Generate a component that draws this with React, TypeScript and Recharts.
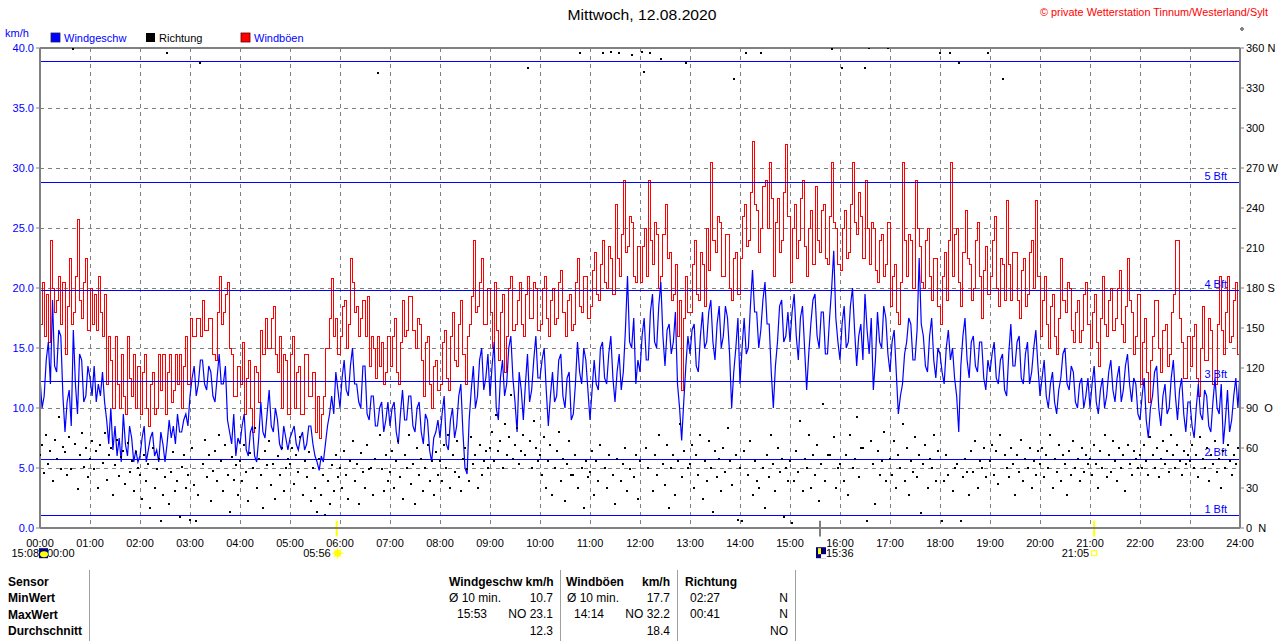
import React from 'react';
import {
  ComposedChart,
  Line,
  Scatter,
  XAxis,
  YAxis,
  CartesianGrid,
  ReferenceLine,
  ReferenceDot,
} from 'recharts';

const FONT = '"Liberation Sans", Arial, Helvetica, sans-serif';

// Windgeschwindigkeit km/h, alle 2,5 Minuten 00:00 .. 24:00 (eine Zeile je Stunde)
const windSpeed = [
  12.5, 10.0, 11.0, 14.0, 15.5, 12.0, 19.0, 13.5, 13.0, 16.5, 16.0, 11.0, 8.0, 10.5, 11.5, 8.5, 16.5, 12.0, 9.5, 14.5, 14.0, 10.5, 11.0, 13.5,
  12.5, 11.0, 13.5, 10.5, 12.0, 11.0, 13.0, 10.5, 9.0, 7.0, 10.0, 6.5, 8.5, 6.0, 7.5, 5.5, 9.5, 7.0, 6.0, 8.5, 7.5, 5.5, 6.5, 5.5,
  6.0, 7.5, 8.5, 5.5, 6.5, 7.5, 8.0, 6.0, 6.5, 5.5, 8.0, 7.0, 5.5, 7.0, 9.0, 7.5, 8.5, 7.0, 9.5, 8.0, 8.0, 9.0, 9.5, 8.5,
  11.0, 12.5, 13.5, 11.0, 12.0, 14.0, 14.0, 12.0, 11.5, 13.5, 13.0, 11.0, 10.5, 12.5, 14.5, 12.0, 12.0, 13.5, 9.0, 8.0, 7.0, 9.5, 6.0, 7.5,
  7.0, 8.5, 9.5, 6.5, 6.0, 8.0, 8.5, 6.0, 5.5, 7.5, 10.5, 8.0, 7.5, 9.5, 11.5, 8.5, 8.0, 10.0, 9.0, 7.0, 6.5, 8.5, 7.5, 6.5,
  7.5, 8.0, 8.5, 7.0, 6.5, 7.5, 8.0, 6.5, 7.0, 8.5, 8.5, 7.0, 6.0, 5.5, 4.8, 6.0, 5.5, 7.0, 8.5, 9.5, 11.0, 9.5, 13.0, 11.5,
  10.0, 12.5, 14.0, 11.5, 11.0, 13.5, 15.0, 12.0, 12.0, 10.5, 10.0, 13.5, 13.5, 9.5, 9.0, 11.0, 11.0, 8.5, 8.5, 10.0, 10.5, 8.0, 9.0, 10.5,
  8.5, 10.0, 10.5, 8.0, 7.0, 9.5, 11.5, 9.0, 9.0, 11.0, 11.0, 8.5, 8.0, 10.0, 10.5, 8.0, 7.0, 9.5, 9.0, 6.5, 5.5, 7.5, 8.0, 9.0,
  7.5, 9.5, 11.0, 7.0, 6.5, 9.0, 10.0, 7.5, 8.5, 11.0, 12.0, 8.0, 5.0, 4.5, 9.0, 11.5, 13.5, 10.0, 11.0, 14.0, 15.0, 11.5, 12.5, 14.5,
  11.0, 13.5, 15.5, 10.0, 9.0, 12.5, 14.0, 11.0, 12.0, 15.0, 16.0, 12.5, 10.5, 8.0, 13.0, 11.5, 9.0, 12.0, 14.5, 10.5, 11.5, 14.0, 16.0, 12.5,
  12.5, 14.0, 15.0, 11.5, 8.5, 11.0, 13.0, 10.5, 11.0, 14.0, 14.5, 11.0, 10.0, 12.5, 13.0, 9.0, 9.5, 12.0, 15.5, 13.0, 12.0, 15.0, 14.0, 11.5,
  9.0, 11.5, 14.0, 12.0, 11.5, 15.0, 15.5, 12.5, 12.0, 14.5, 16.0, 12.5, 10.5, 13.0, 14.5, 11.5, 13.0, 16.5, 21.0, 15.5, 15.0, 17.5, 12.0, 14.0,
  13.0, 16.0, 17.5, 14.0, 14.0, 18.0, 19.5, 15.5, 15.0, 18.5, 20.5, 16.0, 13.5, 16.5, 17.0, 14.5, 15.5, 18.0, 12.0, 10.0, 7.3, 10.5, 13.5, 16.0,
  14.5, 16.5, 17.0, 13.5, 13.0, 16.0, 18.0, 15.0, 15.5, 18.0, 19.0, 15.5, 14.0, 17.0, 18.5, 15.0, 16.0, 18.5, 17.5, 14.5, 10.0, 13.0, 15.0, 17.5,
  12.0, 15.0, 17.5, 14.5, 15.0, 18.5, 21.5, 18.0, 18.0, 15.0, 16.5, 19.0, 20.5, 17.0, 17.0, 13.0, 10.0, 13.5, 15.5, 18.5, 19.0, 15.5, 16.0, 18.0,
  15.5, 18.0, 19.5, 16.0, 14.0, 17.5, 18.5, 15.0, 11.5, 14.5, 17.0, 19.0, 19.5, 16.0, 15.0, 18.0, 18.0, 14.5, 14.5, 17.5, 20.0, 23.1, 17.5, 15.5,
  14.0, 17.0, 18.5, 15.0, 15.5, 18.5, 20.0, 16.5, 13.5, 16.0, 17.0, 14.0, 19.5, 16.5, 14.5, 17.5, 11.5, 14.0, 18.0, 15.5, 15.0, 18.5, 17.5, 14.5,
  13.0, 15.5, 16.5, 13.0, 9.5, 11.0, 12.0, 14.5, 15.5, 17.5, 17.0, 14.0, 14.0, 16.5, 22.5, 17.0, 16.0, 13.5, 13.0, 16.0, 17.5, 14.0, 12.5, 15.0,
  14.5, 13.0, 12.0, 15.0, 16.5, 14.0, 15.0, 12.5, 11.0, 8.0, 13.5, 16.0, 17.5, 14.0, 12.5, 15.5, 16.0, 13.5, 13.0, 15.5, 15.5, 12.5, 11.5, 14.0,
  13.0, 14.5, 15.5, 12.5, 12.0, 14.0, 14.5, 11.5, 11.0, 14.5, 17.0, 13.5, 13.5, 15.5, 16.0, 12.5, 12.0, 14.5, 15.5, 12.0, 13.0, 15.0, 16.5, 13.5,
  11.0, 12.5, 14.0, 11.0, 10.0, 12.0, 13.0, 10.5, 9.5, 11.5, 12.5, 14.5, 15.0, 12.0, 11.5, 13.5, 13.0, 10.5, 10.0, 12.0, 12.5, 10.0, 11.0, 12.5,
  10.0, 12.0, 13.5, 10.5, 9.5, 11.5, 12.5, 10.0, 11.0, 13.0, 14.0, 11.5, 10.5, 12.5, 13.5, 10.5, 11.5, 13.5, 14.5, 12.0, 10.5, 12.5, 12.0, 9.5,
  9.0, 11.0, 12.5, 9.0, 7.5, 10.0, 11.0, 13.0, 13.5, 10.0, 8.5, 11.0, 12.0, 9.5, 10.0, 12.5, 14.0, 11.0, 9.0, 11.5, 12.5, 9.5, 8.0, 10.5,
  10.5, 8.5, 7.5, 10.0, 12.0, 9.5, 9.0, 11.5, 11.0, 8.5, 8.0, 10.5, 12.5, 10.0, 9.5, 12.0, 7.0, 9.0, 11.5, 8.0, 9.0, 11.0, 12.5, 10.0,
  13.0,
];

// Windböen km/h, alle 2,5 Minuten 00:00 .. 24:00 (eine Zeile je Stunde)
const windGust = [
  17.0, 20.5, 16.0, 19.5, 15.5, 24.0, 20.0, 18.0, 19.0, 21.0, 17.0, 20.5, 14.5, 18.5, 22.5, 17.0, 18.0, 21.0, 25.7, 19.0, 17.5, 20.5, 22.5, 16.5,
  20.0, 17.0, 19.5, 16.5, 21.0, 18.0, 16.0, 19.5, 12.0, 16.0, 14.0, 10.0, 16.0, 12.0, 10.0, 14.5, 11.0, 9.5, 16.0, 12.5, 11.0, 14.5, 10.0, 13.5,
  9.5, 13.0, 14.5, 10.0, 8.5, 12.0, 13.0, 9.5, 10.0, 14.5, 11.5, 14.5, 9.5, 13.0, 14.5, 10.5, 11.5, 14.5, 12.0, 14.5, 10.0, 13.5, 16.0, 12.0,
  17.5, 16.0, 16.0, 17.5, 17.5, 16.0, 19.0, 16.5, 16.5, 17.5, 17.5, 14.5, 14.0, 18.0, 21.0, 17.0, 18.0, 19.5, 20.5, 15.0, 14.5, 11.0, 11.0, 13.5,
  12.0, 15.5, 9.5, 12.5, 14.0, 10.0, 8.0, 13.5, 13.0, 10.5, 16.5, 14.5, 17.5, 15.0, 15.0, 17.5, 18.5, 14.5, 13.0, 16.0, 10.0, 14.5, 14.0, 9.5,
  14.5, 16.0, 10.0, 13.0, 13.5, 9.5, 9.5, 14.5, 14.5, 11.0, 11.0, 13.0, 8.0, 11.0, 7.5, 9.5, 11.0, 15.0, 15.0, 17.5, 20.8, 16.0, 17.5, 14.5,
  16.0, 18.5, 19.0, 15.0, 17.0, 22.5, 20.5, 18.0, 18.5, 16.0, 17.5, 19.0, 16.0, 19.3, 13.5, 16.0, 15.0, 12.5, 16.0, 13.5, 15.5, 12.0, 13.0, 16.0,
  13.5, 16.0, 17.5, 13.0, 12.0, 15.5, 19.0, 16.0, 16.5, 19.3, 19.3, 16.5, 15.0, 17.5, 17.0, 14.0, 11.0, 15.5, 16.0, 12.0, 10.0, 13.5, 14.0, 11.5,
  12.0, 15.5, 16.5, 12.5, 11.5, 16.0, 18.0, 14.0, 13.5, 17.0, 19.0, 14.5, 12.0, 16.0, 17.0, 19.3, 24.0, 18.0, 18.5, 20.5, 22.5, 17.0, 17.0, 20.0,
  18.0, 15.0, 20.5, 16.5, 14.0, 18.0, 19.5, 13.0, 16.0, 20.0, 21.0, 16.5, 17.0, 19.0, 20.5, 17.0, 16.0, 19.5, 21.0, 17.5, 17.5, 20.5, 20.0, 16.5,
  17.0, 20.0, 21.0, 17.5, 16.0, 19.0, 20.0, 17.0, 17.5, 20.5, 21.5, 18.0, 16.0, 19.0, 19.5, 16.5, 17.0, 20.5, 22.5, 18.5, 18.0, 21.0, 21.0, 17.5,
  18.5, 21.5, 23.0, 19.5, 19.0, 22.0, 24.0, 20.5, 20.0, 23.5, 22.5, 19.5, 27.0, 22.5, 21.0, 24.5, 29.0, 23.0, 23.5, 26.0, 25.5, 21.0, 20.5, 23.5,
  20.5, 23.5, 25.0, 21.0, 29.0, 24.0, 22.0, 25.5, 24.5, 20.0, 21.0, 24.5, 27.0, 22.5, 23.0, 19.0, 19.5, 22.0, 16.0, 19.0, 11.5, 17.5, 21.0, 18.0,
  18.0, 22.0, 24.0, 19.5, 19.0, 23.0, 22.0, 18.5, 25.0, 21.5, 30.5, 24.0, 23.0, 26.0, 25.5, 21.0, 21.0, 24.5, 24.5, 20.0, 19.0, 22.5, 23.0, 19.5,
  22.5, 26.0, 27.0, 23.5, 24.0, 28.0, 32.2, 27.0, 26.5, 23.0, 25.0, 28.5, 29.0, 25.0, 30.5, 27.5, 21.0, 25.5, 27.5, 23.0, 24.0, 28.0, 32.0, 26.0,
  20.5, 25.0, 27.0, 22.5, 24.0, 27.5, 29.0, 23.5, 21.0, 25.0, 26.5, 22.0, 28.5, 24.0, 23.0, 26.5, 27.0, 22.5, 22.0, 26.0, 30.5, 25.5, 25.0, 22.0,
  21.5, 25.0, 26.5, 22.5, 23.0, 27.0, 30.5, 25.5, 24.5, 28.0, 26.0, 22.5, 29.0, 25.0, 22.0, 25.5, 25.0, 21.5, 20.5, 24.0, 24.5, 21.0, 22.0, 25.5,
  18.5, 21.0, 22.0, 18.0, 17.0, 20.5, 30.5, 24.0, 21.0, 24.5, 24.0, 20.0, 29.0, 25.0, 23.5, 20.5, 20.0, 24.0, 25.0, 21.0, 19.0, 22.5, 22.5, 18.5,
  17.0, 21.0, 23.0, 19.0, 24.0, 30.5, 21.0, 24.5, 25.0, 20.5, 18.5, 23.0, 26.5, 22.5, 22.0, 19.0, 20.0, 24.0, 25.5, 21.0, 17.5, 21.5, 23.5, 19.5,
  21.0, 24.0, 26.0, 20.0, 18.5, 22.5, 22.0, 19.0, 27.3, 22.0, 19.0, 23.0, 23.0, 19.0, 17.5, 21.5, 22.5, 18.5, 19.5, 23.0, 24.0, 20.0, 27.3, 21.0,
  16.0, 19.0, 21.0, 17.0, 15.0, 18.5, 19.5, 16.0, 14.5, 17.5, 22.5, 19.0, 18.0, 20.5, 20.0, 16.5, 15.5, 18.0, 19.0, 15.5, 16.5, 19.5, 20.5, 17.0,
  15.0, 18.0, 19.5, 15.5, 13.5, 17.5, 21.0, 17.0, 16.0, 19.0, 20.0, 16.5, 17.5, 20.0, 21.5, 17.0, 15.5, 18.5, 22.5, 19.0, 18.0, 14.5, 16.0, 19.5,
  12.0, 15.5, 17.5, 13.0, 10.5, 14.0, 16.0, 19.0, 19.0, 15.0, 13.0, 16.5, 17.0, 13.5, 14.5, 18.0, 19.5, 24.0, 24.0, 17.5, 15.5, 12.5, 12.5, 16.0,
  13.5, 16.0, 17.0, 12.5, 11.0, 15.0, 18.5, 14.0, 14.0, 17.5, 16.5, 12.0, 12.0, 17.0, 21.0, 16.5, 14.5, 18.0, 21.0, 15.5, 16.0, 19.0, 20.5, 14.5,
  15.0,
];

// Windrichtung in Grad, alle 2,5 Minuten (eine Zeile je Stunde)
const direction = [
  55, 62, 41, 70, 48, 58, 35, 66, 52, 83, 44, 61, 57, 40, 68, 44, 359, 63, 29, 55, 71, 46, 60, 38,
  52, 65, 44, 58, 30, 62, 49, 71, 36, 55, 60, 25, 47, 66, 39, 53, 58, 33, 64, 42, 50, 28, 57, 45,
  40, 22, 55, 35, 48, 15, 60, 30, 44, 52, 5, 25, 38, 356, 18, 42, 57, 28, 35, 8, 46, 55, 30, 40,
  6, 60, 32, 5, 25, 349, 48, 66, 38, 55, 20, 43, 58, 35, 70, 50, 28, 62, 40, 12, 53, 36, 47, 25,
  50, 35, 62, 42, 20, 56, 45, 75, 30, 52, 40, 15, 58, 47, 65, 32, 48, 22, 54, 40, 60, 28, 45, 52,
  48, 60, 33, 55, 42, 68, 25, 50, 38, 57, 20, 45, 30, 12, 52, 25, 40, 10, 35, 18, 47, 28, 55, 38,
  45, 30, 58, 40, 22, 50, 65, 35, 48, 18, 56, 42, 30, 62, 44, 45, 25, 52, 341, 70, 44, 28, 55, 35,
  42, 58, 30, 50, 65, 38, 22, 55, 45, 70, 33, 48, 18, 60, 40, 52, 28, 45, 62, 35, 50, 25, 57, 40,
  50, 35, 62, 45, 70, 30, 55, 42, 65, 38, 28, 52, 60, 44, 35, 68, 48, 55, 30, 62, 40, 50, 58, 45,
  60, 72, 50, 85, 58, 65, 45, 78, 55, 68, 100, 52, 62, 75, 48, 58, 70, 55, 345, 65, 45, 80, 60, 50,
  55, 40, 68, 30, 50, 62, 25, 45, 58, 72, 35, 52, 20, 48, 65, 40, 40, 55, 30, 356, 45, 15, 50, 38,
  42, 58, 25, 50, 35, 62, 356, 45, 30, 55, 357, 40, 18, 52, 356, 35, 48, 60, 28, 44, 355, 38, 55, 22,
  50, 357, 342, 60, 45, 356, 28, 55, 40, 70, 352, 48, 32, 62, 15, 45, 55, 25, 50, 78, 38, 58, 349, 45,
  48, 62, 30, 55, 40, 70, 22, 50, 35, 65, 45, 12, 58, 38, 52, 28, 60, 42, 75, 50, 32, 337, 55, 6,
  45, 5, 58, 356, 40, 65, 25, 50, 35, 30, 356, 45, 15, 55, 38, 70, 48, 28, 60, 42, 52, 8, 45, 35,
  50, 4, 35, 58, 42, 80, 28, 52, 45, 70, 30, 55, 40, 62, 20, 48, 93, 35, 55, 55, 359, 68, 30, 45,
  48, 345, 35, 55, 25, 70, 45, 52, 83, 38, 60, 60, 345, 5, 360, 65, 48, 18, 58, 40, 50, 72, 35, 360,
  52, 40, 65, 30, 55, 45, 78, 35, 60, 25, 50, 42, 68, 38, 55, 11, 48, 62, 30, 52, 45, 70, 35, 58,
  356, 5, 35, 55, 40, 356, 28, 45, 48, 349, 5, 38, 52, 42, 25, 58, 42, 65, 30, 50, 45, 60, 38, 356,
  50, 62, 40, 58, 33, 70, 337, 55, 45, 38, 60, 48, 25, 55, 42, 66, 35, 52, 45, 60, 30, 50, 40, 58,
  48, 60, 38, 55, 45, 70, 30, 52, 42, 62, 35, 55, 48, 25, 58, 40, 65, 45, 52, 35, 60, 42, 55, 48,
  52, 40, 62, 48, 30, 58, 45, 70, 38, 55, 42, 65, 50, 35, 60, 45, 55, 28, 62, 48, 40, 58, 52, 45,
  55, 45, 62, 50, 40, 68, 55, 45, 60, 38, 52, 65, 48, 58, 42, 70, 55, 45, 62, 50, 40, 58, 48, 55,
  50, 62, 45, 55, 38, 68, 52, 45, 60, 35, 55, 48, 65, 42, 52, 30, 58, 45, 62, 50, 40, 55, 48, 60,
];

const timeLabels = [
  '00:00', '01:00', '02:00', '03:00', '04:00', '05:00', '06:00', '07:00', '08:00',
  '09:00', '10:00', '11:00', '12:00', '13:00', '14:00', '15:00', '16:00', '17:00',
  '18:00', '19:00', '20:00', '21:00', '22:00', '23:00', '24:00',
];
const timeTicks = timeLabels.map((_, i) => i * 60);
const speedTicks = [0, 5, 10, 15, 20, 25, 30, 35, 40];
const dirTicks = [0, 30, 60, 90, 120, 150, 180, 210, 240, 270, 300, 330, 360];
const dirTickLabels = ['0  N', '30', '60', '90  O', '120', '150', '180 S', '210', '240', '270 W', '300', '330', '360 N'];

const bftLevels = [1.04, 5.71, 12.21, 19.79, 28.79, 38.875];
const bftLabels = ['1 Bft', '2 Bft', '3 Bft', '4 Bft', '5 Bft', ''];

// Mond / Sonne (Minuten des Tages)
const markerTimes = [0, 356, 936, 1265];
const markerKinds = ['moon0', 'sunrise', 'moon', 'sunset'];
const markerTexts = ['15:08', '05:56', '15:36', '21:05'];
const markerTickColors = ['', '#ffff00', '#808080', '#ffff00'];

// Tabelle
const tableRows = ['Sensor', 'MinWert', 'MaxWert', 'Durchschnitt'];
const speedCol = ['Ø 10 min.', '10.7', '15:53', 'NO 23.1', '12.3'];
const gustCol = ['Ø 10 min.', '17.7', '14:14', 'NO 32.2', '18.4'];
const dirCol = ['02:27', 'N', '00:41', 'N', 'NO'];

const chartData = windSpeed.map((w, i) => ({ t: i * 2.5, wind: w, gust: windGust[i] }));
const dirData = direction.map((d, i) => ({ t: i * 2.5, dir: d }));

const BftLabel = (props: any) => {
  const vb = props.viewBox || {};
  if (!props.text || vb.x == null) return null;
  return (
    <text x={vb.x + vb.width - 13} y={vb.y - 3} textAnchor="end" fill="#0000ff" fontSize={11} fontFamily={FONT}>
      {props.text}
    </text>
  );
};

const RightTick = (props: any) => {
  const { x, y, payload } = props;
  const idx = dirTicks.indexOf(payload.value);
  return (
    <text x={x} y={y} dy={4} textAnchor="start" fill="#000" fontSize={11} fontFamily={FONT} style={{ whiteSpace: 'pre' }}>
      {dirTickLabels[idx]}
    </text>
  );
};

const DirDot = (props: any) => {
  const { cx, cy } = props;
  if (cx == null || cy == null) return null;
  return <rect x={Math.round(cx) - 1} y={Math.round(cy) - 1} width={2} height={2} fill="#000" />;
};

const Marker = (props: any) => {
  const { cx, cy, kind, text } = props;
  if (cx == null || cy == null) return null;
  const base = cy + 4;
  const txt = { fontSize: 11, fontFamily: FONT, fill: '#000' } as any;
  if (kind === 'moon0') {
    return (
      <g>
        <text x={cx - 1} y={base} textAnchor="end" {...txt}>{text}</text>
        <text x={cx + 7} y={base} textAnchor="start" {...txt}>00:00</text>
        <rect x={cx - 1} y={cy - 5} width={9} height={10} fill="#000080" />
        <ellipse cx={cx + 4} cy={cy + 1} rx={4} ry={3} fill="#ffff00" />
      </g>
    );
  }
  if (kind === 'sunrise') {
    const rays = [0, 45, 90, 135, 180, 225, 270, 315];
    return (
      <g>
        <text x={cx - 6} y={base} textAnchor="end" {...txt}>{text}</text>
        {rays.map((a) => {
          const r = (a * Math.PI) / 180;
          return (
            <line key={a} x1={cx + 1 + Math.cos(r) * 3} y1={cy + Math.sin(r) * 3} x2={cx + 1 + Math.cos(r) * 5.5} y2={cy + Math.sin(r) * 5.5} stroke="#ffff00" strokeWidth={1} />
          );
        })}
        <circle cx={cx + 1} cy={cy} r={3.5} fill="#ffff00" />
      </g>
    );
  }
  if (kind === 'moon') {
    return (
      <g>
        <rect x={cx - 4} y={cy - 6} width={10} height={11} fill="#000080" />
        <rect x={cx - 2} y={cy - 5} width={3} height={6} fill="#ffff00" />
        <rect x={cx + 1} y={cy + 1} width={5} height={4} fill="#ffffff" />
        <text x={cx + 6} y={base} textAnchor="start" {...txt}>{text}</text>
      </g>
    );
  }
  return (
    <g>
      <text x={cx - 5} y={base} textAnchor="end" {...txt}>{text}</text>
      <rect x={cx - 2.5} y={cy - 2.5} width={5} height={5} fill="none" stroke="#ffff00" strokeWidth={1} />
    </g>
  );
};

export default function App() {
  const tf = { fontFamily: FONT, fontSize: 12, fill: '#000' } as any;
  return (
    <div style={{ position: 'absolute', left: 0, top: 0, width: 1280, height: 641, background: '#fff', overflow: 'hidden' }}>
      <ComposedChart width={1280} height={641} data={chartData} margin={{ top: 48, right: 0, bottom: 83, left: 0 }}>
        <CartesianGrid yAxisId="kmh" stroke="#808080" strokeDasharray="4 4" shapeRendering="crispEdges" />
        <XAxis
          dataKey="t"
          type="number"
          domain={[0, 1440]}
          ticks={timeTicks}
          interval={0}
          allowDataOverflow
          tickFormatter={(v: number) => timeLabels[Math.round(v / 60)]}
          tickLine={false}
          tickSize={6}
          tickMargin={5}
          axisLine={{ stroke: '#808080', strokeWidth: 2 }}
          tick={{ fill: '#000', fontSize: 11, fontFamily: FONT }}
          height={30}
        />
        <YAxis
          yAxisId="kmh"
          orientation="left"
          type="number"
          width={40}
          domain={[0, 40]}
          ticks={speedTicks}
          interval={0}
          allowDataOverflow
          tickFormatter={(v: number) => v.toFixed(1)}
          tick={{ fill: '#0000ff', fontSize: 11, fontFamily: FONT }}
          tickLine={{ stroke: '#808080' }}
          tickSize={4}
          tickMargin={2}
          axisLine={{ stroke: '#808080', strokeWidth: 2 }}
        />
        <YAxis
          yAxisId="dir"
          orientation="right"
          type="number"
          width={40}
          domain={[0, 360]}
          ticks={dirTicks}
          interval={0}
          allowDataOverflow
          tick={(p: any) => <RightTick {...p} />}
          tickLine={{ stroke: '#808080' }}
          tickSize={4}
          tickMargin={2}
          axisLine={{ stroke: '#808080', strokeWidth: 2 }}
        />
        <Line yAxisId="kmh" dataKey="gust" type="stepAfter" stroke="#ff0000" strokeWidth={1} shapeRendering="crispEdges" dot={false} activeDot={false} isAnimationActive={false} />
        <Line yAxisId="kmh" dataKey="wind" type="linear" stroke="#0000ff" strokeWidth={1.2} dot={false} activeDot={false} isAnimationActive={false} />
        <Scatter yAxisId="dir" data={dirData} dataKey="dir" fill="#000" shape={(p: any) => <DirDot {...p} />} isAnimationActive={false} />
        {bftLevels.map((lvl, i) => (
          <ReferenceLine key={'bft' + i} yAxisId="kmh" y={lvl} stroke="#0000ff" strokeWidth={1} shapeRendering="crispEdges" label={<BftLabel text={bftLabels[i]} />} />
        ))}
        <ReferenceLine yAxisId="kmh" y={40} stroke="#808080" strokeWidth={2} />
        {markerTimes.map((m, i) =>
          markerTickColors[i] ? (
            <ReferenceLine
              key={'mt' + i}
              yAxisId="kmh"
              ifOverflow="visible"
              segment={[{ x: m, y: 0.6 }, { x: m, y: -0.7 }]}
              stroke={markerTickColors[i]}
              strokeWidth={2}
            />
          ) : null
        )}
        {markerTimes.map((m, i) => (
          <ReferenceDot
            key={'md' + i}
            yAxisId="kmh"
            x={m}
            y={-2.1}
            r={1}
            ifOverflow="visible"
            shape={(p: any) => <Marker {...p} kind={markerKinds[i]} text={markerTexts[i]} />}
          />
        ))}
      </ComposedChart>
      <svg width={1280} height={641} style={{ position: 'absolute', left: 0, top: 0, pointerEvents: 'none' }}>
        <text x={642} y={20} textAnchor="middle" fontSize={15} fontFamily={FONT} fill="#000" textLength={149} lengthAdjust="spacingAndGlyphs">
          Mittwoch, 12.08.2020
        </text>
        <text x={1268} y={16} textAnchor="end" fontSize={11} fontFamily={FONT} fill="#ff0000" textLength={228} lengthAdjust="spacingAndGlyphs">
          © private Wetterstation Tinnum/Westerland/Sylt
        </text>
        <circle cx={1242} cy={29} r={1.3} fill="none" stroke="#000" strokeWidth={0.8} />
        <text x={5} y={37} fontSize={11} fontFamily={FONT} fill="#0000ff">km/h</text>
        <rect x={51} y={33} width={9} height={9} fill="#0000ff" stroke="#202060" strokeWidth={0.8} />
        <text x={64} y={42} fontSize={11} fontFamily={FONT} fill="#0000ff">Windgeschw</text>
        <rect x={146} y={33} width={9} height={9} fill="#000" />
        <text x={159} y={42} fontSize={11} fontFamily={FONT} fill="#000">Richtung</text>
        <rect x={241} y={33} width={9} height={9} fill="#ff0000" stroke="#600000" strokeWidth={0.8} />
        <text x={254} y={42} fontSize={11} fontFamily={FONT} fill="#0000ff">Windböen</text>

        {[89, 560, 677, 795].map((x) => (
          <line key={x} x1={x + 0.5} y1={570} x2={x + 0.5} y2={641} stroke="#a0a0a0" strokeWidth={1} />
        ))}
        {tableRows.map((r, i) => (
          <text key={r} x={8} y={586 + i * 16.3} {...tf} fontWeight="bold">{r}</text>
        ))}
        <text x={449} y={586} {...tf} fontWeight="bold">Windgeschw km/h</text>
        <text x={566} y={586} {...tf} fontWeight="bold">Windböen</text>
        <text x={670} y={586} {...tf} fontWeight="bold" textAnchor="end">km/h</text>
        <text x={685} y={586} {...tf} fontWeight="bold">Richtung</text>

        <text x={449} y={602} {...tf}>{speedCol[0]}</text>
        <text x={553} y={602} {...tf} textAnchor="end">{speedCol[1]}</text>
        <text x={457} y={618} {...tf}>{speedCol[2]}</text>
        <text x={553} y={618} {...tf} textAnchor="end">{speedCol[3]}</text>
        <text x={553} y={635} {...tf} textAnchor="end">{speedCol[4]}</text>

        <text x={567} y={602} {...tf}>{gustCol[0]}</text>
        <text x={670} y={602} {...tf} textAnchor="end">{gustCol[1]}</text>
        <text x={574} y={618} {...tf}>{gustCol[2]}</text>
        <text x={670} y={618} {...tf} textAnchor="end">{gustCol[3]}</text>
        <text x={670} y={635} {...tf} textAnchor="end">{gustCol[4]}</text>

        <text x={690} y={602} {...tf}>{dirCol[0]}</text>
        <text x={788} y={602} {...tf} textAnchor="end">{dirCol[1]}</text>
        <text x={690} y={618} {...tf}>{dirCol[2]}</text>
        <text x={788} y={618} {...tf} textAnchor="end">{dirCol[3]}</text>
        <text x={788} y={635} {...tf} textAnchor="end">{dirCol[4]}</text>
      </svg>
    </div>
  );
}
